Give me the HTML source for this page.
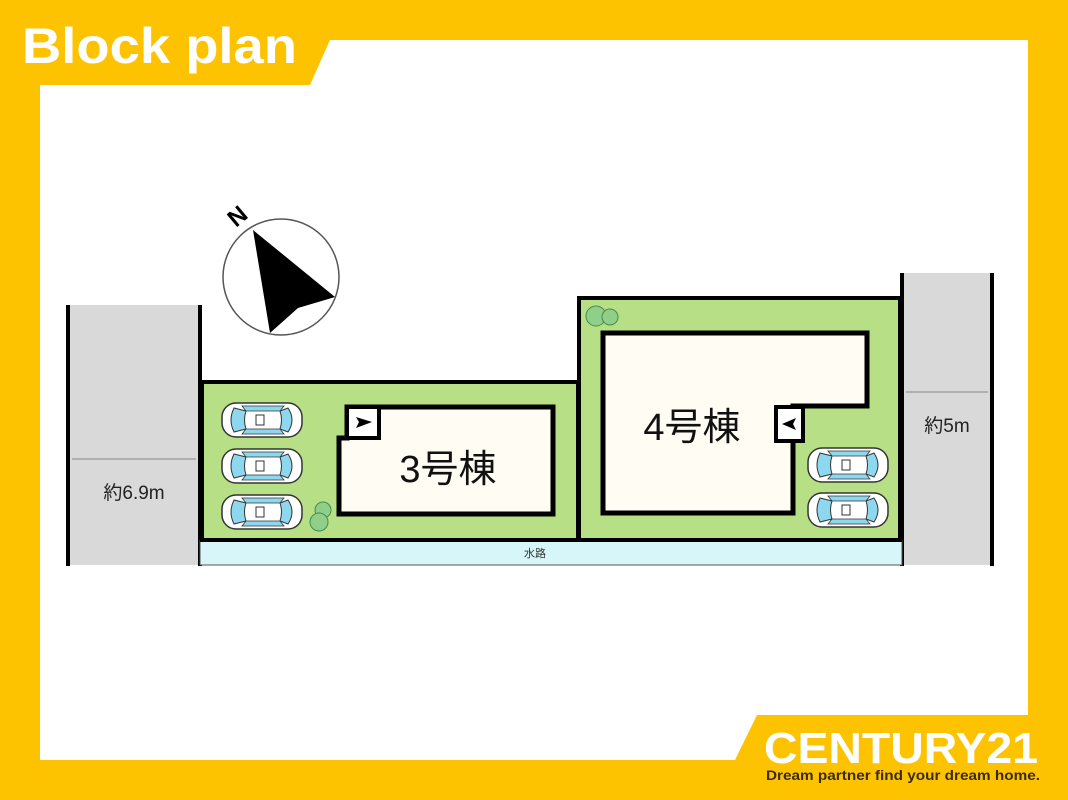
<!DOCTYPE html>
<html><head><meta charset="utf-8"><style>
body{margin:0;width:1068px;height:800px;overflow:hidden;background:#fdc300}
svg{display:block}
text{font-family:"Liberation Sans","Noto Sans CJK JP",sans-serif}
</style></head><body>
<svg width="1068" height="800" viewBox="0 0 1068 800">
<defs>
<g id="car">
<rect x="0" y="0" width="80" height="34" rx="14" fill="#fff" stroke="#333" stroke-width="1.5"/>
<path d="M12 5 Q6 17 12 29 L24 26 Q21 17 24 8Z" fill="#8dd8ee" stroke="#333" stroke-width="1"/>
<path d="M66 5 Q74 17 66 29 L58 26 Q61 17 58 8Z" fill="#8dd8ee" stroke="#333" stroke-width="1"/>
<path d="M24 8 L58 8 L62 3 L20 3Z" fill="#8dd8ee" stroke="#333" stroke-width="0.8"/>
<path d="M24 26 L58 26 L62 31 L20 31Z" fill="#8dd8ee" stroke="#333" stroke-width="0.8"/>
<rect x="34" y="12" width="8" height="10" fill="#fff" stroke="#333" stroke-width="1"/>
</g>
</defs>
<rect width="1068" height="800" fill="#fdc300"/>
<polygon points="330,40 1028,40 1028,715 757,715 735,760 40,760 40,85 310,85" fill="#fff"/>
<text x="22" y="63" font-size="50" font-weight="bold" fill="#fff" textLength="275" lengthAdjust="spacingAndGlyphs">Block plan</text>
<!-- roads -->
<rect x="68" y="305" width="132" height="260" fill="#d9d9d9"/>
<rect x="902" y="273" width="90" height="292" fill="#d9d9d9"/>
<line x1="68" y1="305" x2="68" y2="566" stroke="#000" stroke-width="4"/>
<line x1="200" y1="305" x2="200" y2="566" stroke="#000" stroke-width="4"/>
<line x1="902" y1="273" x2="902" y2="566" stroke="#000" stroke-width="4"/>
<line x1="992" y1="273" x2="992" y2="566" stroke="#000" stroke-width="4"/>
<line x1="72" y1="459" x2="196" y2="459" stroke="#888" stroke-width="1"/>
<text x="134" y="499" font-size="19" text-anchor="middle" fill="#222">約6.9m</text>
<line x1="906" y1="392" x2="988" y2="392" stroke="#888" stroke-width="1"/>
<text x="947" y="432" font-size="19" text-anchor="middle" fill="#222">約5m</text>
<!-- water -->
<rect x="200" y="540" width="702" height="25" fill="#d6f6f9" stroke="#555" stroke-width="1"/>
<text x="535" y="557" font-size="11" text-anchor="middle" fill="#333">水路</text>
<!-- lots -->
<rect x="202" y="382" width="376" height="158" fill="#b7df86" stroke="#000" stroke-width="4"/>
<rect x="579" y="298" width="321" height="242" fill="#b7df86" stroke="#000" stroke-width="4"/>
<!-- house 3 -->
<polygon points="347,407 553,407 553,514 339,514 339,438 347,438" fill="#fffdf3" stroke="#000" stroke-width="5"/>
<rect x="347" y="407" width="32" height="31" fill="#fff" stroke="#000" stroke-width="4"/>
<polygon points="356,417 372,422 356,428 359,422" fill="#000"/>
<text x="448" y="482" font-size="38" text-anchor="middle" fill="#111">3号棟</text>
<!-- house 4 -->
<polygon points="603,333 867,333 867,406 793,406 793,513 603,513" fill="#fffdf3" stroke="#000" stroke-width="5"/>
<rect x="776" y="407" width="27" height="34" fill="#fff" stroke="#000" stroke-width="4"/>
<polygon points="796,418 782,424 796,430 793,424" fill="#000"/>
<text x="692" y="440" font-size="38" text-anchor="middle" fill="#111">4号棟</text>
<!-- trees -->
<circle cx="596" cy="316" r="10" fill="#8fcf8a" stroke="#4a8a4a"/>
<circle cx="610" cy="317" r="8" fill="#8fcf8a" stroke="#4a8a4a"/>
<circle cx="323" cy="510" r="8" fill="#8fcf8a" stroke="#4a8a4a"/>
<circle cx="319" cy="522" r="9" fill="#8fcf8a" stroke="#4a8a4a"/>
<!-- cars -->
<use href="#car" x="222" y="403"/>
<use href="#car" x="222" y="449"/>
<use href="#car" x="222" y="495"/>
<use href="#car" x="808" y="448"/>
<use href="#car" x="808" y="493"/>
<!-- compass -->
<circle cx="281" cy="277" r="58" fill="#fff" stroke="#555" stroke-width="1.5"/>
<polygon points="253,230 335,297 298,308 270,333" fill="#000"/>
<text x="0" y="0" font-size="24" font-weight="bold" fill="#000" transform="translate(236,228) rotate(-40)">N</text>
<!-- logo -->
<text x="764" y="763" font-size="44" font-weight="bold" fill="#fff" textLength="274" lengthAdjust="spacingAndGlyphs">CENTURY21</text>
<text x="766" y="780" font-size="14" font-weight="bold" fill="#3a2a10" textLength="274" lengthAdjust="spacingAndGlyphs">Dream partner find your dream home.</text>
</svg>
</body></html>
